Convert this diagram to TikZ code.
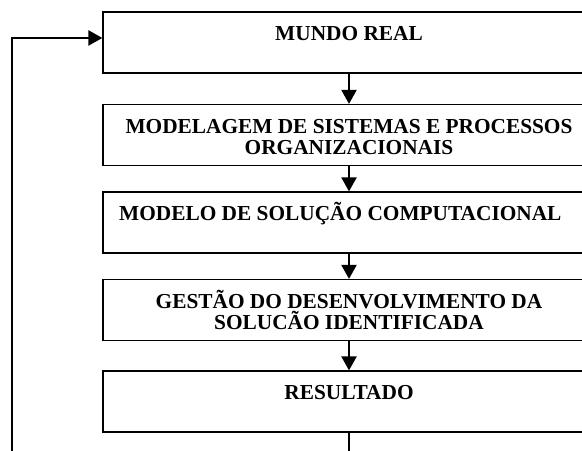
\documentclass[tikz,border=0pt]{standalone}
\usepackage{fontspec}
\setmainfont{Liberation Serif}
\usetikzlibrary{arrows.meta}

\begin{document}
\begin{tikzpicture}[x=0.75pt, y=-0.75pt, >={Triangle[length=10.5pt,width=11.5pt]},
    caixa/.style={draw, line width=1pt, minimum width=369pt, minimum height=45.75pt,
      align=center, inner sep=0pt, text height=11pt, text depth=14pt,
      font=\fontsize{16}{15.75}\selectfont\bfseries},
    duaslinhas/.style={text height=28.6pt, text depth=0pt}]
    % Moldura (as caixas saem pela direita)
    \clip (0,0) rectangle (582,450);

    % Caixas
    \node[caixa] (mundo) at (349,42.5) {MUNDO REAL};
    \node[caixa, duaslinhas] (modelagem) at (349,135) {MODELAGEM DE SISTEMAS E PROCESSOS\\ORGANIZACIONAIS};
    \node[caixa] (modelo) at (349,222.5) {MODELO DE SOLUÇÃO COMPUTACIONAL\hspace*{13pt}};
    \node[caixa, duaslinhas] (gestao) at (349,310) {GESTÃO DO DESENVOLVIMENTO DA\\SOLUCÃO IDENTIFICADA};
    \node[caixa] (resultado) at (349,401.5) {RESULTADO};

    % Setas entre as caixas
    \draw[->, line width=1pt] (mundo) -- (modelagem);
    \draw[->, line width=1pt] (modelagem) -- (modelo);
    \draw[->, line width=1pt] (modelo) -- (gestao);
    \draw[->, line width=1pt] (gestao) -- (resultado);

    % Retorno ao mundo real
    \coordinate (volta) at (12,470);
    \draw[->, line width=1pt] (resultado.south) -- (resultado |- volta) -- (volta)
        |- ([yshift=3.4pt]mundo.west);
\end{tikzpicture}
\end{document}
